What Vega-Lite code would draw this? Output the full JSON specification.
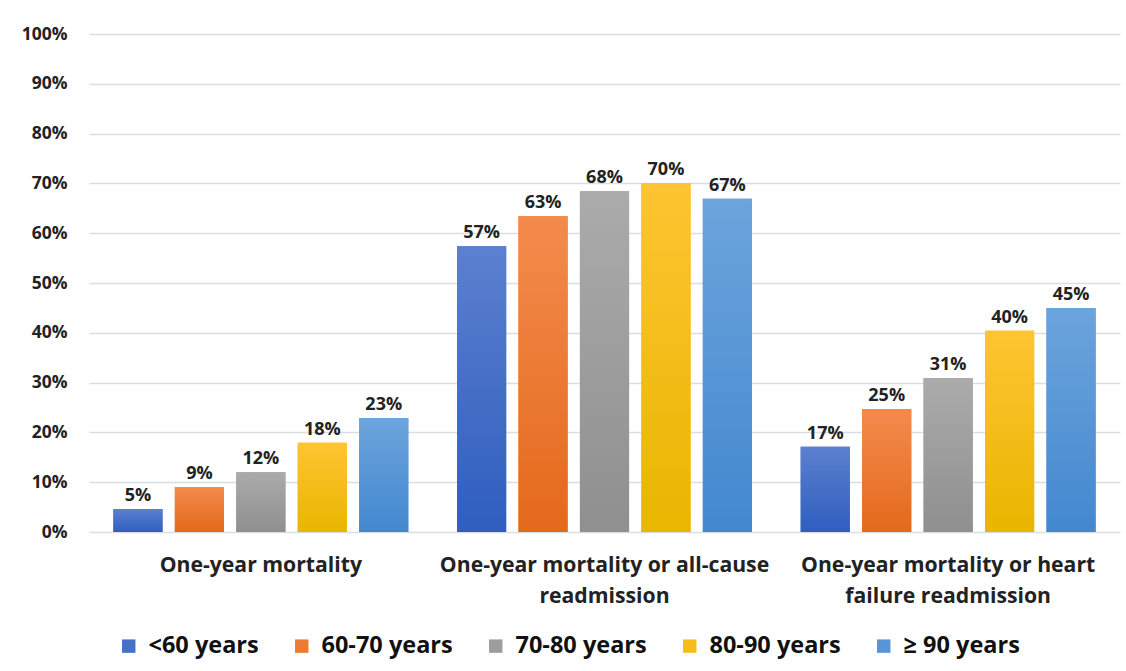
{
  "$schema": "https://vega.github.io/schema/vega-lite/v6.json",
  "width": 1031,
  "height": 498,
  "autosize": {"type": "none"},
  "padding": {"left": 89, "top": 34, "right": 6, "bottom": 139},
  "background": "white",
  "config": {
    "view": {"stroke": null},
    "font": "Open Sans",
    "axis": {"labelFont": "Open Sans", "labelFontWeight": "bold", "labelColor": "#222222"}
  },
  "data": {
    "values": [
      {"category": "One-year mortality", "age": "<60 years", "value": 0.046},
      {"category": "One-year mortality", "age": "60-70 years", "value": 0.09},
      {"category": "One-year mortality", "age": "70-80 years", "value": 0.12},
      {"category": "One-year mortality", "age": "80-90 years", "value": 0.179},
      {"category": "One-year mortality", "age": "≥ 90 years", "value": 0.229},
      {"category": "One-year mortality or all-cause readmission", "age": "<60 years", "value": 0.574},
      {"category": "One-year mortality or all-cause readmission", "age": "60-70 years", "value": 0.634},
      {"category": "One-year mortality or all-cause readmission", "age": "70-80 years", "value": 0.684},
      {"category": "One-year mortality or all-cause readmission", "age": "80-90 years", "value": 0.701},
      {"category": "One-year mortality or all-cause readmission", "age": "≥ 90 years", "value": 0.669},
      {"category": "One-year mortality or heart failure readmission", "age": "<60 years", "value": 0.171},
      {"category": "One-year mortality or heart failure readmission", "age": "60-70 years", "value": 0.247},
      {"category": "One-year mortality or heart failure readmission", "age": "70-80 years", "value": 0.309},
      {"category": "One-year mortality or heart failure readmission", "age": "80-90 years", "value": 0.404},
      {"category": "One-year mortality or heart failure readmission", "age": "≥ 90 years", "value": 0.45}
    ]
  },
  "encoding": {
    "x": {
      "field": "category",
      "type": "nominal",
      "sort": null,
      "scale": {"paddingInner": 0.1417, "paddingOuter": 0.0709},
      "axis": {
        "title": null,
        "labelAngle": 0,
        "domain": false,
        "ticks": false,
        "labelFontSize": 21.2,
        "labelLimit": 500,
        "labelPadding": 22,
        "labelLineHeight": 31,
        "labelBaseline": "top",
        "labelExpr": "datum.label === 'One-year mortality or all-cause readmission' ? ['One-year mortality or all-cause', 'readmission'] : datum.label === 'One-year mortality or heart failure readmission' ? ['One-year mortality or heart', 'failure readmission'] : datum.label"
      }
    },
    "xOffset": {
      "field": "age",
      "type": "nominal",
      "scale": {"domain": ["<60 years", "60-70 years", "70-80 years", "80-90 years", "≥ 90 years"], "paddingInner": 0.2, "paddingOuter": 0}
    },
    "y": {
      "field": "value",
      "type": "quantitative",
      "scale": {"domain": [0, 1]},
      "axis": {
        "title": null,
        "format": ".0%",
        "values": [0, 0.1, 0.2, 0.3, 0.4, 0.5, 0.6, 0.7, 0.8, 0.9, 1],
        "domain": false,
        "ticks": false,
        "labelFontSize": 17.5,
        "labelPadding": 22,
        "gridColor": "#d9dee5",
        "gridWidth": 1.3
      }
    }
  },
  "layer": [
    {
      "mark": {"type": "bar"},
      "encoding": {
        "color": {
          "field": "age",
          "type": "nominal",
          "scale": {
            "domain": ["<60 years", "60-70 years", "70-80 years", "80-90 years", "≥ 90 years"],
            "range": ["#4570c8", "#ec7a33", "#9d9d9d", "#f4bd18", "#5796d6"]
          },
          "legend": {
            "title": null,
            "orient": "none",
            "direction": "horizontal",
            "legendX": 28,
            "legendY": 600,
            "padding": 0,
            "symbolType": "square",
            "symbolSize": 180,
            "symbolStrokeWidth": 0,
            "labelFont": "Open Sans",
            "labelFontWeight": "bold",
            "labelFontSize": 23.5,
            "labelColor": "#111111",
            "labelOffset": 8,
            "columnPadding": 31,
            "labelLimit": 300
          }
        }
      }
    },
    {
      "transform": [{"filter": "datum.age === '<60 years'"}],
      "mark": {"type": "bar", "color": {"gradient": "linear", "x1": 0, "y1": 0, "x2": 0, "y2": 1, "stops": [{"offset": 0, "color": "#5b80ce"}, {"offset": 1, "color": "#2f5ebf"}]}},
      "encoding": {}
    },
    {
      "transform": [{"filter": "datum.age === '60-70 years'"}],
      "mark": {"type": "bar", "color": {"gradient": "linear", "x1": 0, "y1": 0, "x2": 0, "y2": 1, "stops": [{"offset": 0, "color": "#f38b4d"}, {"offset": 1, "color": "#e4691b"}]}},
      "encoding": {}
    },
    {
      "transform": [{"filter": "datum.age === '70-80 years'"}],
      "mark": {"type": "bar", "color": {"gradient": "linear", "x1": 0, "y1": 0, "x2": 0, "y2": 1, "stops": [{"offset": 0, "color": "#ababab"}, {"offset": 1, "color": "#8f8f8f"}]}},
      "encoding": {}
    },
    {
      "transform": [{"filter": "datum.age === '80-90 years'"}],
      "mark": {"type": "bar", "color": {"gradient": "linear", "x1": 0, "y1": 0, "x2": 0, "y2": 1, "stops": [{"offset": 0, "color": "#ffc432"}, {"offset": 1, "color": "#e8b600"}]}},
      "encoding": {}
    },
    {
      "transform": [{"filter": "datum.age === '≥ 90 years'"}],
      "mark": {"type": "bar", "color": {"gradient": "linear", "x1": 0, "y1": 0, "x2": 0, "y2": 1, "stops": [{"offset": 0, "color": "#6ca4dc"}, {"offset": 1, "color": "#4388cf"}]}},
      "encoding": {}
    },
    {
      "mark": {"type": "text", "baseline": "bottom", "dy": -4, "font": "Open Sans", "fontWeight": "bold", "fontSize": 18, "color": "#222222"},
      "encoding": {
        "text": {"field": "value", "type": "quantitative", "format": ".0%"}
      }
    }
  ]
}
